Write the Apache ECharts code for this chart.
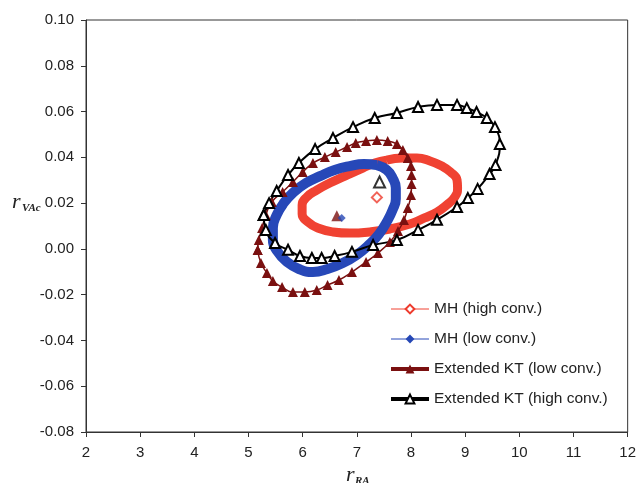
<!DOCTYPE html>
<html>
<head>
<meta charset="utf-8">
<script src="https://cdn.jsdelivr.net/npm/echarts@6/dist/echarts.min.js"></script>
<style>
  html, body { margin: 0; padding: 0; background: #fff; }
  #chart { width: 639px; height: 483px; }
</style>
</head>
<body>
<div id="chart"></div>
<script>
// values: [r_RA, r_VAc]
var mhHigh = [
  [7.55, 0.0388], [7.85, 0.0397], [8.11, 0.0397], [8.35, 0.0384], [8.57, 0.0362],
  [8.73, 0.0336], [8.85, 0.0301], [8.86, 0.0266], [8.81, 0.0227], [8.66, 0.0192],
  [8.48, 0.0161], [8.25, 0.0135], [7.98, 0.0109], [7.61, 0.0087], [7.24, 0.0074],
  [6.87, 0.0069], [6.56, 0.0074], [6.28, 0.0091], [6.10, 0.0117], [5.99, 0.0152],
  [5.99, 0.0192], [6.08, 0.0227], [6.26, 0.0257], [6.50, 0.0288], [6.78, 0.0318],
  [7.11, 0.0353], [7.33, 0.0375], [7.55, 0.0388]
];
var mhLow = [
  [7.37, 0.0366], [7.55, 0.0345], [7.66, 0.0310], [7.72, 0.0266], [7.72, 0.0218],
  [7.66, 0.0170], [7.55, 0.0117], [7.41, 0.0065], [7.22, 0.0017], [7.00, -0.0026],
  [6.74, -0.0062], [6.46, -0.0088], [6.19, -0.0101], [5.93, -0.0088], [5.71, -0.0057],
  [5.54, -0.0013], [5.45, 0.0039], [5.45, 0.0091], [5.52, 0.0148], [5.65, 0.0200],
  [5.84, 0.0249], [6.06, 0.0288], [6.32, 0.0318], [6.59, 0.0345], [6.87, 0.0362],
  [7.13, 0.0371], [7.37, 0.0366]
];
var ktLow = [
  [5.17, -0.0005], [5.19, 0.0039], [5.25, 0.0091], [5.32, 0.0148], [5.43, 0.0205],
  [5.63, 0.0249], [5.82, 0.0292], [6.00, 0.0336], [6.19, 0.0375], [6.41, 0.0401],
  [6.61, 0.0423], [6.82, 0.0445], [6.98, 0.0463], [7.17, 0.0471], [7.37, 0.0476],
  [7.57, 0.0471], [7.74, 0.0458], [7.85, 0.0432], [7.94, 0.0397], [8.00, 0.0362],
  [8.01, 0.0323], [8.01, 0.0283], [8.00, 0.0235], [7.94, 0.0179], [7.87, 0.0126],
  [7.76, 0.0078], [7.61, 0.0030], [7.39, -0.0018], [7.17, -0.0057], [6.91, -0.0101],
  [6.67, -0.0136], [6.46, -0.0158], [6.26, -0.0180], [6.04, -0.0188], [5.82, -0.0188],
  [5.62, -0.0167], [5.45, -0.0140], [5.34, -0.0105], [5.23, -0.0062], [5.17, -0.0005]
];
var ktHigh = [
  [5.28, 0.0148], [5.38, 0.0200], [5.52, 0.0253], [5.73, 0.0323], [5.93, 0.0375],
  [6.23, 0.0436], [6.56, 0.0484], [6.93, 0.0532], [7.33, 0.0572], [7.74, 0.0594],
  [8.13, 0.0620], [8.48, 0.0629], [8.85, 0.0629], [9.03, 0.0615], [9.21, 0.0598],
  [9.40, 0.0572], [9.55, 0.0532], [9.64, 0.0458], [9.56, 0.0366], [9.45, 0.0327],
  [9.23, 0.0262], [9.05, 0.0222], [8.85, 0.0183], [8.48, 0.0127], [8.13, 0.0083],
  [7.74, 0.0039], [7.30, 0.0017], [6.91, -0.0013], [6.59, -0.0031], [6.35, -0.0040],
  [6.17, -0.0040], [5.95, -0.0031], [5.73, -0.0004], [5.49, 0.0026], [5.32, 0.0083],
  [5.28, 0.0148]
];
// centre points of each ellipse
var mhHighCenter = [[7.37, 0.0225]];
var mhLowCenter = [[6.72, 0.0135]];
var ktLowCenter = [[6.63, 0.0145]];
var ktHighCenter = [[7.42, 0.0292]];

var names = ['MH (high conv.)', 'MH (low conv.)', 'Extended KT (low conv.)', 'Extended KT (high conv.)'];

var chart = echarts.init(document.getElementById('chart'));
var font = '"Liberation Sans", Arial, sans-serif';

var option = {
  animation: false,
  grid: {
    left: 86, right: 11, top: 20, bottom: 51,
    show: true, borderColor: '#333', borderWidth: 1
  },
  legend: {
    orient: 'vertical',
    left: 384, top: 296,
    itemWidth: 38, itemHeight: 11, itemGap: 14,
    textStyle: { fontFamily: font, fontSize: 15.5, color: '#222' },
    data: [
      { name: names[0], lineStyle: { width: 1 } },
      { name: names[1], lineStyle: { width: 1 } },
      { name: names[2], lineStyle: { width: 4 } },
      { name: names[3], lineStyle: { width: 4 } }
    ]
  },
  xAxis: {
    type: 'value', min: 2, max: 12, interval: 1,
    axisLine: { onZero: false, lineStyle: { color: '#333' } },
    axisTick: { show: true, length: 5, lineStyle: { color: '#333' } },
    axisLabel: { fontFamily: font, fontSize: 15, color: '#222', margin: 13 },
    splitLine: { show: false }
  },
  yAxis: {
    type: 'value', min: -0.08, max: 0.10, interval: 0.02,
    axisLine: { show: true, onZero: false, lineStyle: { color: '#333' } },
    axisTick: { show: true, length: 5, lineStyle: { color: '#333' } },
    axisLabel: {
      fontFamily: font, fontSize: 15, color: '#222', margin: 12,
      formatter: function (v) { return v.toFixed(2); }
    },
    splitLine: { show: false }
  },
  graphic: [
    { type: 'text', left: 12, top: 191, style: { text: 'r', font: 'italic 22px "Liberation Serif", serif', fill: '#222' } },
    { type: 'text', left: 22, top: 203, style: { text: 'VAc', font: 'italic bold 11px "Liberation Serif", serif', fill: '#222' } },
    { type: 'text', left: 346, top: 464, style: { text: 'r', font: 'italic 22px "Liberation Serif", serif', fill: '#222' } },
    { type: 'text', left: 355, top: 476, style: { text: 'RA', font: 'italic bold 11px "Liberation Serif", serif', fill: '#222' } }
  ],
  series: [
    {
      name: names[0], type: 'line', data: mhHigh, smooth: true,
      symbol: 'emptyDiamond', symbolSize: 8, showSymbol: false,
      itemStyle: { color: '#ee3b2d' },
      lineStyle: { color: '#f04232', width: 9 }
    },
    {
      name: names[1], type: 'line', data: mhLow, smooth: true,
      symbol: 'diamond', symbolSize: 9, showSymbol: false,
      itemStyle: { color: '#2547b5' },
      lineStyle: { color: '#2748b8', width: 10 }
    },
    {
      name: names[2], type: 'line', data: ktLow, smooth: true,
      symbol: 'triangle', symbolSize: 10,
      itemStyle: { color: '#7a1010' },
      lineStyle: { color: '#7a1010', width: 1.5 }
    },
    {
      name: names[3], type: 'line', data: ktHigh, smooth: true,
      symbol: 'emptyTriangle', symbolSize: 10,
      itemStyle: { color: '#000', borderWidth: 1 },
      lineStyle: { color: '#000', width: 2 }
    },
    {
      name: names[0], type: 'scatter', data: mhHighCenter,
      symbol: 'emptyDiamond', symbolSize: 10, itemStyle: { color: '#ee3b2d' }
    },
    {
      name: names[2], type: 'scatter', data: ktLowCenter,
      symbol: 'triangle', symbolSize: 11, itemStyle: { color: '#7a1010' }
    },
    {
      name: names[1], type: 'scatter', data: mhLowCenter,
      symbol: 'diamond', symbolSize: 8, itemStyle: { color: '#2547b5' }
    },
    {
      name: names[3], type: 'scatter', data: ktHighCenter,
      symbol: 'emptyTriangle', symbolSize: 11, itemStyle: { color: '#000' }
    }
  ]
};

chart.setOption(option);
</script>
</body>
</html>
